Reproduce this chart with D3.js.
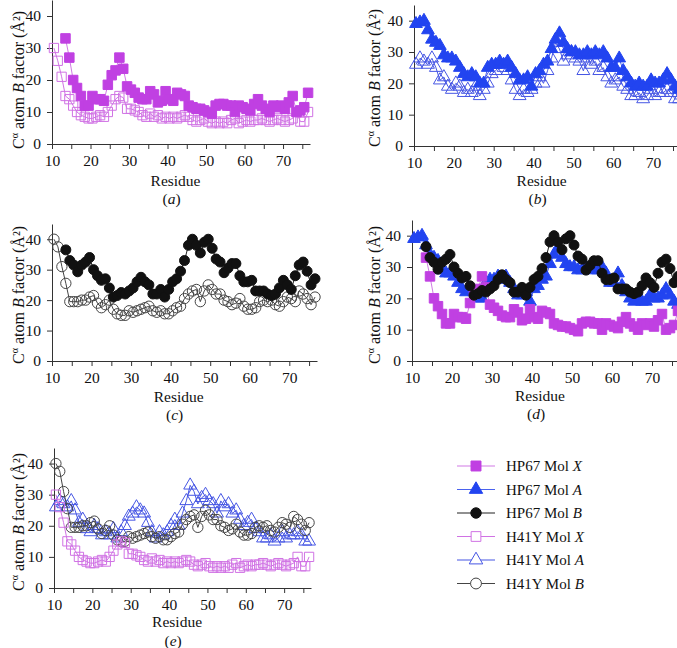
<!DOCTYPE html>
<html>
<head>
<meta charset="utf-8">
<script src="https://cdn.jsdelivr.net/npm/d3@7"></script>
<style>
  body { margin: 0; background: #fff; }
  svg { display: block; }
  text { font-family: "Liberation Serif", "Times New Roman", serif; fill: #111; }
</style>
</head>
<body>
<svg id="chart" width="677" height="648"></svg>
<script>
// residue numbers (x) and B factors per series
var residues = d3.range(10, 77);
var xTicks = d3.range(10, 77, 5);
var yTicks = [0, 10, 20, 30, 40];

var hp67MolX = [null, null, null,
  33, 27, 20, 17.5, 15, 12, 12, 15, 14, 14, 13.5, 18.5, 21.5, 23, 27, 23.5, 18, 17, 16, 14.5, 14, 14,
  16.5, 15.5, 13, 13.5, 16.5, 14, 13.5, 16, 15.5, 15, 12, 11.5, 11, 11, 10.5, 10, 9.5, 12, 12.5, 12.5,
  12, 12, 10, 12, 11.5, 11, 10.5, 12.5, 14, 12, 11, 10, 12, 11.5, 12, 11, 13, 15, 10, 10.5, 11.5, 16];
var hp67MolA = [39, 39.5, 40, 37, 34, 33, 32, 29, 28, 28, 27, 25, 23, 22, 23, 22, 20, 20, 25, 26, 26, 27,
  26, 27, 25, 23, 21, 21, 22, 19, 23, 24, 26, 27, 31, 34, 36, 33, 31, 30, 30, 29, 29, 30, 29, 30, 29, 30,
  28, 25, 25, 28, 24, 22, 20, 19, 20, 19, 19, 21, 20, 20, 21, 23, 21, 19, 18];
var hp67MolB = [null, null, null,
  36.5, 33, 31.5, 29.3, 31.5, 32.5, 34, 30, 28, 26.5, 27, 24, 21, 21.5, 22.5, 22, 23, 24, 26, 27.5, 26,
  25, 22, 22, 23.5, 21, 23.5, 26, 27, 29.5, 33, 38, 40, 38, 35.5, 39, 40, 37, 33.5, 32.5, 29, 30.5, 32,
  32, 28, 26, 26, 26.5, 23, 23, 23, 22, 21.5, 22, 24, 26.5, 25, 23.5, 28, 31.5, 32.5, 29.5, 25, 27];
var h41yMolX = [30, 26, 21, 15, 14, 12, 10, 9, 8.5, 8, 8, 8.5, 9, 8.5, 10, 12, 14, 15, 14.5, 11, 11, 10.5,
  10, 9, 8.5, 9.5, 8.5, 9, 8, 8.5, 8, 8.5, 8, 8.5, 9, 8.5, 7.5, 7, 7.5, 8, 7, 6.5, 7, 6.5, 7, 6.5, 7.5, 8,
  6.5, 7, 7.5, 7, 7.5, 7.5, 8, 7.5, 7, 7.5, 8, 7.5, 7, 7.5, 8, 10, 7, 7, 10];
var h41yMolA = [26, 28, 27, 26, 28, 25, 21, 22, 19, 18, 20, 19, 17, 18, 17, 19, 16, 18, 20, 23, 24, 26, 25,
  24, 21, 18, 16, 18, 17, 18, 20, 22, 20, 24, 28, 33, 31, 27, 29, 30, 28, 27, 24, 28, 26, 27, 24, 25, 22,
  20, 21, 22, 19, 18, 16, 16, 17, 15, 16, 18, 16, 17, 17, 18, 17, 15, 15];
var h41yMolB = [40, 37.5, 31, 25.5, 19.5, 19.5, 19.5, 20, 20, 21, 21.5, 19, 17.5, 18.5, 20, 17, 15.5, 15, 15,
  16.5, 16, 16.5, 17, 17.5, 18, 16.5, 16, 16.5, 15.5, 15.5, 16.5, 17.5, 18, 20.5, 22, 23, 23.5, 19.5, 23,
  25, 23.5, 22, 22, 20, 19.5, 18.5, 19, 20.5, 18, 17, 17, 17.5, 19.5, 20, 19.5, 20, 18.5, 18, 19.5, 21,
  20.5, 19.5, 23, 22, 20.5, 18.5, 21];

var series = {
  hx: { name: "HP67 Mol ", mol: "X", values: hp67MolX, shape: d3.symbolSquare, size: 90, fill: "#c040e2", stroke: "#c040e2", line: "#d27ae6" },
  ha: { name: "HP67 Mol ", mol: "A", values: hp67MolA, shape: d3.symbolTriangle, size: 70, fill: "#2244f0", stroke: "#2244f0", line: "#4a62ee" },
  hb: { name: "HP67 Mol ", mol: "B", values: hp67MolB, shape: d3.symbolCircle, size: 78, fill: "#111", stroke: "#111", line: "#222" },
  yx: { name: "H41Y Mol ", mol: "X", values: h41yMolX, shape: d3.symbolSquare, size: 86, fill: "none", stroke: "#d072e4", line: "#d072e4" },
  ya: { name: "H41Y Mol ", mol: "A", values: h41yMolA, shape: d3.symbolTriangle, size: 72, fill: "none", stroke: "#4656e4", line: "#4656e4" },
  yb: { name: "H41Y Mol ", mol: "B", values: h41yMolB, shape: d3.symbolCircle, size: 84, fill: "none", stroke: "#444", line: "#444" }
};
var legendOrder = ["hx", "ha", "hb", "yx", "ya", "yb"];

// panel boxes: x of residue 10 / 77, y of B = 45 / 0
var panels = [
  { tag: "a", x0: 52, x1: 310, top: 0, bot: 144, keys: ["yx", "hx"], labX: 18, labY: 80, resY: 186, tagY: 204 },
  { tag: "b", x0: 414, x1: 681, top: 5, bot: 146, keys: ["ya", "ha"], labX: 374, labY: 78, resY: 186, tagY: 204 },
  { tag: "c", x0: 52, x1: 317, top: 224, bot: 361, keys: ["yb", "hb"], labX: 18, labY: 295, resY: 402, tagY: 420 },
  { tag: "d", x0: 412, x1: 680, top: 220, bot: 361, keys: ["ha", "hx", "hb"], labX: 374, labY: 295, resY: 401, tagY: 419 },
  { tag: "e", x0: 54, x1: 311, top: 448, bot: 588, keys: ["ya", "yb", "yx"], labX: 18, labY: 522, resY: 627, tagY: 646 }
];

var svg = d3.select("#chart");

panels.forEach(function (p) {
  var x = d3.scaleLinear().domain([10, 77]).range([p.x0, p.x1]);
  var y = d3.scaleLinear().domain([0, 45]).range([p.bot, p.top]);
  var g = svg.append("g");

  var xAxis = d3.axisBottom(x)
    .tickValues(xTicks)
    .tickSize(5)
    .tickPadding(6)
    .tickSizeOuter(0)
    .tickFormat(function (d) { return d % 10 == 0 ? d : ""; });
  var yAxis = d3.axisLeft(y)
    .tickValues(yTicks)
    .tickSize(5)
    .tickPadding(6)
    .tickSizeOuter(0);

  var gx = g.append("g").attr("transform", "translate(0," + p.bot + ")").call(xAxis);
  var gy = g.append("g").attr("transform", "translate(" + p.x0 + ",0)").call(yAxis);
  [gx, gy].forEach(function (a) {
    a.selectAll("path, line").attr("stroke", "#333");
    a.selectAll("text").attr("font-size", "15.5px").attr("font-family", "Liberation Serif, serif").attr("fill", "#111");
  });

  // points sit half a residue right of the tick
  var line = d3.line()
    .defined(function (d) { return d[1] != null; })
    .x(function (d) { return x(d[0] + 0.5); })
    .y(function (d) { return y(d[1]); });

  p.keys.forEach(function (k) {
    var s = series[k];
    var pts = residues.map(function (r, i) { return [r, s.values[i]]; });
    g.append("path")
      .datum(pts)
      .attr("d", line)
      .attr("fill", "none")
      .attr("stroke", s.line)
      .attr("stroke-width", 1);
    g.append("g").selectAll("path")
      .data(pts.filter(function (d) { return d[1] != null; }))
      .enter()
      .append("path")
      .attr("d", d3.symbol().type(s.shape).size(s.size))
      .attr("transform", function (d) { return "translate(" + x(d[0] + 0.5) + "," + y(d[1]) + ")"; })
      .attr("fill", s.fill)
      .attr("stroke", s.stroke)
      .attr("stroke-width", 1);
  });

  // y label
  var yl = g.append("text")
    .attr("transform", "translate(" + p.labX + "," + p.labY + ") rotate(-90)")
    .attr("text-anchor", "middle")
    .attr("dy", "0.35em")
    .attr("font-size", "16px");
  yl.append("tspan").text("C");
  yl.append("tspan").text("\u03b1").attr("font-size", "10px").attr("dy", "-6");
  yl.append("tspan").text(" atom ").attr("dy", "6");
  yl.append("tspan").text("B").attr("font-style", "italic");
  yl.append("tspan").text(" factor (\u00c5\u00b2)");

  var cx = (p.x0 + x(70)) / 2 + 8;
  g.append("text")
    .attr("x", cx).attr("y", p.resY)
    .attr("text-anchor", "middle")
    .attr("font-size", "15.5px")
    .text("Residue");
  var tg = g.append("text")
    .attr("x", cx - 4).attr("y", p.tagY)
    .attr("text-anchor", "middle")
    .attr("font-size", "15.5px");
  tg.append("tspan").text("(");
  tg.append("tspan").text(p.tag).attr("font-style", "italic");
  tg.append("tspan").text(")");
});

// legend
var leg = svg.append("g");
legendOrder.forEach(function (k, i) {
  var s = series[k];
  var ly = 466 + i * 23.5;
  leg.append("line")
    .attr("x1", 457).attr("x2", 495)
    .attr("y1", ly).attr("y2", ly)
    .attr("stroke", s.line).attr("stroke-width", 1.2);
  leg.append("path")
    .attr("d", d3.symbol().type(s.shape).size(s.size * 1.1))
    .attr("transform", "translate(476," + ly + ")")
    .attr("fill", s.fill == "none" ? "#fff" : s.fill)
    .attr("stroke", s.stroke);
  var t = leg.append("text")
    .attr("x", 506).attr("y", ly + 5)
    .attr("font-size", "15px");
  t.append("tspan").text(s.name);
  t.append("tspan").text(s.mol).attr("font-style", "italic");
});
</script>
</body>
</html>
